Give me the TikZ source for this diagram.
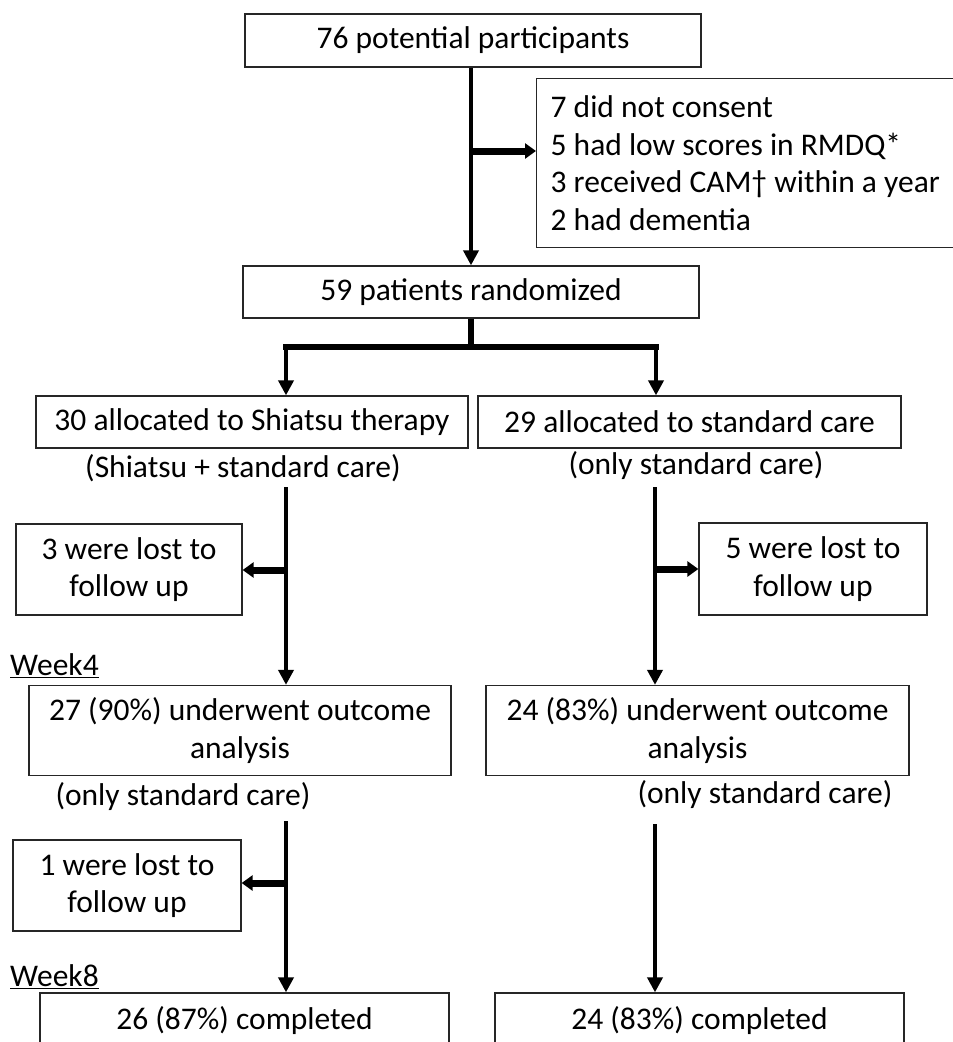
\documentclass[tikz,border=0pt]{standalone}
\usepackage{fontspec}
\setmainfont{Carlito}
\usetikzlibrary{arrows.meta}
\begin{document}
\begin{tikzpicture}[x=1pt,y=-1pt,
  box/.style={draw=black!85,line width=1.3pt,inner sep=0pt,align=center,font=\fontsize{31.5}{37.5}\selectfont},
  lab/.style={inner sep=0pt,align=center,font=\fontsize{31.5}{37.5}\selectfont},
  flow/.style={line width=4.5pt,-{Triangle[width=15pt,length=15pt]}},
  side/.style={line width=7pt,-{Triangle[width=15pt,length=11pt]}},
  plain/.style={line width=5.5pt}]
\useasboundingbox (0,0) rectangle (953,1042);
\clip (0,0) rectangle (953,1042);
% boxes
\node[box,minimum width=456pt,minimum height=53pt] (b1) at (473,40.5) {76 potential participants};
\node[box,anchor=north west,minimum width=444pt,minimum height=169pt,text width=416pt,align=flush left,inner xsep=14pt] (ex) at (536,78)
  {7 did not consent\\5 had low scores in RMDQ*\\3 received CAM† within a year\\2 had dementia};
\node[box,minimum width=456pt,minimum height=52pt] (b2) at (471,292) {59 patients randomized};
\node[box,minimum width=432pt,minimum height=52pt] (b3) at (252,422) {30 allocated to Shiatsu therapy};
\node[box,minimum width=423pt,minimum height=52pt] (b4) at (689.5,422) {29 allocated to standard care};
\node[lab] (l3) at (243,468) {(Shiatsu + standard care)};
\node[lab] (l4) at (696,466) {(only standard care)};
\node[box,minimum width=226pt,minimum height=91pt] (x1) at (129,569.5) {3 were lost to\\follow up};
\node[box,minimum width=228pt,minimum height=92pt] (x2) at (813,569) {5 were lost to\\follow up};
\node[lab,anchor=west] (w4) at (10,666) {\underline{Week4}};
\node[box,minimum width=422pt,minimum height=90pt] (b5) at (240,730.5) {27 (90\%) underwent outcome\\analysis};
\node[box,minimum width=423pt,minimum height=90pt] (b6) at (697.5,730.5) {24 (83\%) underwent outcome\\analysis};
\node[lab] (l5) at (183,797) {(only standard care)};
\node[lab] (l6) at (765,795) {(only standard care)};
\node[box,minimum width=228pt,minimum height=91pt] (x3) at (127,885.5) {1 were lost to\\follow up};
\node[lab,anchor=west] (w8) at (10,977) {\underline{Week8}};
\node[box,minimum width=409pt,minimum height=56pt] (b7) at (244.5,1021) {26 (87\%) completed};
\node[box,minimum width=409pt,minimum height=56pt] (b8) at (699.5,1021) {24 (83\%) completed};
% coordinates
\coordinate (s1) at (471,151);
\coordinate (bar) at (471,347);
\coordinate (barL) at (286,347);
\coordinate (barR) at (656,347);
\coordinate (vL1) at (286,487);
\coordinate (vR1) at (655,487);
\coordinate (sL1) at (286,570);
\coordinate (sR1) at (655,569);
\coordinate (vL2) at (286,821);
\coordinate (vR2) at (655,824);
\coordinate (sL2) at (286,883);
% connectors
\draw[flow] (b1.south -| s1) -- (b2.north -| s1);
\draw[side] (s1) -- (s1 -| ex.west);
\draw[plain] (b2.south -| bar) -- (bar);
\draw[plain] ([xshift=-2.75pt]barL) -- ([xshift=2.75pt]barR);
\draw[flow] (barL) -- (b3.north -| barL);
\draw[flow] (barR) -- (b4.north -| barR);
\draw[flow] (vL1) -- (b5.north -| vL1);
\draw[side] (sL1) -- (sL1 -| x1.east);
\draw[flow] (vR1) -- (b6.north -| vR1);
\draw[side] (sR1) -- (sR1 -| x2.west);
\draw[flow] (vL2) -- (b7.north -| vL2);
\draw[side] (sL2) -- (sL2 -| x3.east);
\draw[flow] (vR2) -- (b8.north -| vR2);
\end{tikzpicture}
\end{document}
